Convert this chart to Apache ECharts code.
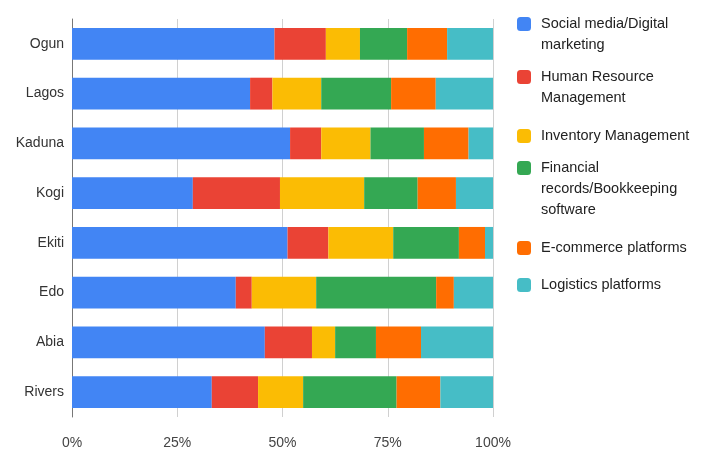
<!DOCTYPE html>
<html>
<head>
<meta charset="utf-8">
<script src="https://cdn.jsdelivr.net/npm/echarts@6/dist/echarts.min.js"></script>
<style>html,body{margin:0;padding:0;background:#fff}#c{width:707px;height:452px}</style>
</head>
<body>
<div id="c"></div>
<script>
const states = ['Ogun', 'Lagos', 'Kaduna', 'Kogi', 'Ekiti', 'Edo', 'Abia', 'Rivers'];
const seriesNames = ['Social media/Digital marketing', 'Human Resource Management', 'Inventory Management', 'Financial records/Bookkeeping software', 'E-commerce platforms', 'Logistics platforms'];
const legendLines = [['Social media/Digital', 'marketing'], ['Human Resource', 'Management'], ['Inventory Management'], ['Financial', 'records/Bookkeeping', 'software'], ['E-commerce platforms'], ['Logistics platforms']];
const socialMedia = [48.1, 42.3, 51.8, 28.7, 51.2, 38.9, 45.8, 33.2];
const humanResource = [12.2, 5.3, 7.4, 20.7, 9.7, 3.8, 11.2, 11.0];
const inventory = [8.1, 11.6, 11.7, 20.0, 15.4, 15.3, 5.5, 10.7];
const financial = [11.2, 16.6, 12.7, 12.7, 15.6, 28.5, 9.7, 22.2];
const ecommerce = [9.5, 10.6, 10.6, 9.1, 6.2, 4.2, 10.7, 10.4];
const logistics = [10.9, 13.6, 5.8, 8.8, 1.9, 9.3, 17.1, 12.5];
const xTicks = [0, 25, 50, 75, 100];
const colors = ['#4285f4', '#ea4335', '#fbbc04', '#34a853', '#ff6d01', '#46bdc6'];
const values = [socialMedia, humanResource, inventory, financial, ecommerce, logistics];
const legendCenters = [24, 77, 136, 168, 248, 285];

const LH = 21;
const font = 'Arial, "Liberation Sans", sans-serif';
const legends = seriesNames.map((name, i) => {
  const lines = legendLines[i];
  const n = lines.length;
  const padLines = [];
  for (let k = 0; k < n - 1; k++) padLines.push(' ');
  const text = padLines.concat(lines).join('\n');
  return {
    orient: 'vertical',
    left: 517,
    top: legendCenters[i] - (2 * n - 1) * LH / 2,
    padding: 0,
    data: [name],
    itemWidth: 14,
    itemHeight: 14,
    itemGap: 0,
    icon: 'roundRect',
    formatter: () => text,
    textStyle: { fontFamily: font, fontSize: 14.5, color: '#222', lineHeight: LH, padding: [0, 0, 0, 5] },
    selectedMode: false
  };
});

const chart = echarts.init(document.getElementById('c'), null, { renderer: 'canvas' });
chart.setOption({
  animation: false,
  color: colors,
  legend: legends,
  grid: { left: 72, right: 214, top: 19, bottom: 35, containLabel: false },
  xAxis: {
    type: 'value', min: 0, max: 100, interval: 25,
    axisLabel: { formatter: v => xTicks.indexOf(v) >= 0 ? v + '%' : '', fontFamily: font, fontSize: 14, color: '#444', margin: 19 },
    splitLine: { lineStyle: { color: '#d0d0d0', width: 1 } },
    axisLine: { show: false }, axisTick: { show: false }
  },
  yAxis: {
    type: 'category', data: states, inverse: true,
    axisLabel: { fontFamily: font, fontSize: 14, color: '#333', margin: 8 },
    axisLine: { show: true, lineStyle: { color: '#777', width: 1 } },
    axisTick: { show: false }
  },
  series: seriesNames.map((name, i) => ({
    name, type: 'bar', stack: 'total', barWidth: '64%', data: values[i],
    itemStyle: { color: colors[i] }
  }))
});
</script>
</body>
</html>
